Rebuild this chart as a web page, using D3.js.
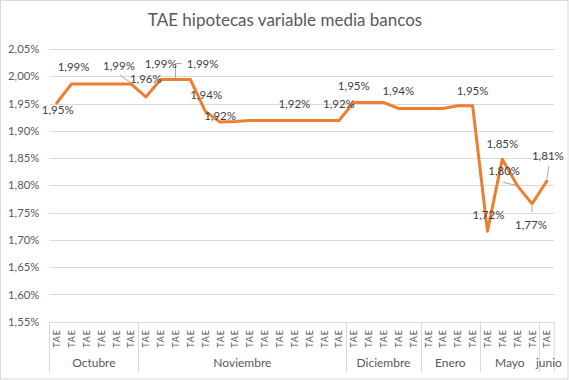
<!DOCTYPE html>
<html><head><meta charset="utf-8">
<script src="https://cdn.jsdelivr.net/npm/d3@7"></script>
<style>body{margin:0;background:#fff}svg{display:block;font-family:Lato,"Open Sans",sans-serif}</style>
</head><body><svg id="c" width="569" height="380"></svg>
<script>
// ---- data ----
const title = "TAE hipotecas variable media bancos";
const categories = ["TAE","TAE","TAE","TAE","TAE","TAE","TAE","TAE","TAE","TAE","TAE","TAE","TAE","TAE","TAE","TAE","TAE",
  "TAE","TAE","TAE","TAE","TAE","TAE","TAE","TAE","TAE","TAE","TAE","TAE","TAE","TAE","TAE","TAE","TAE"];
const months = ["Octubre","Noviembre","Diciembre","Enero","Mayo","junio"];
const monthCounts = [6, 14, 5, 4, 4, 1];
const values = [1.951, 1.986, 1.986, 1.986, 1.986, 1.986, 1.962, 1.994, 1.994, 1.994,
  1.936, 1.916, 1.917, 1.919, 1.919, 1.919, 1.919, 1.919, 1.919, 1.919,
  1.952, 1.952, 1.952, 1.941, 1.941, 1.941, 1.941, 1.946, 1.946, 1.716,
  1.848, 1.800, 1.766, 1.808];
const yTicks = [1.55, 1.60, 1.65, 1.70, 1.75, 1.80, 1.85, 1.90, 1.95, 2.00, 2.05];
const labelIndex = [0, 1, 5, 6, 7, 8, 10, 11, 16, 19, 20, 23, 28, 29, 30, 31, 32, 33];
// label placement relative to the point (layout, not data)
const labelOffset = {0:[1,7],1:[2,-17],5:[-12,-18],6:[0,-17.5],7:[0,-15.5],8:[27,-16],10:[1,-16],11:[0,-6],
  16:[0,-16],19:[0,-16],20:[0,-16],23:[0,-17],28:[0,-15],29:[1,-16],30:[0,-15],31:[-13,-14],32:[-1,21],33:[1,-25]};

// ---- layout ----
const svg = d3.select("#c");
const L = 49.3, R = 554.3, T = 49, B = 321.7;
const grey = "#595959", grid = "#d9d9d9";

svg.append("rect").attr("x",0.5).attr("y",0.5).attr("width",567.5).attr("height",378.5)
  .attr("fill","#fff").attr("stroke",grid);

const x = d3.scaleBand().domain(d3.range(categories.length)).range([L, R]).padding(0);
const y = d3.scaleLinear().domain([1.55, 2.05]).range([B, T]);
const fmt = v => v.toFixed(2).replace(".", ",") + "%";

svg.append("text").attr("x",285).attr("y",26).attr("text-anchor","middle")
  .attr("font-size",17).attr("fill",grey).text(title);

// gridlines
svg.append("g").selectAll("line").data(yTicks).join("line")
  .attr("x1",L).attr("x2",R).attr("y1",d=>Math.round(y(d))+0.5).attr("y2",d=>Math.round(y(d))+0.5)
  .attr("stroke",grid).attr("stroke-width",1);

// y axis labels
const yAxis = d3.axisLeft(y).tickValues(yTicks).tickFormat(fmt).tickSize(0).tickPadding(10);
const ga = svg.append("g").attr("transform",`translate(${L},0)`).call(yAxis);
ga.select(".domain").remove();
ga.selectAll("text").attr("font-family","Lato, sans-serif").attr("font-size",11.3).attr("fill",grey);

// category labels
svg.append("g").selectAll("text").data(categories).join("text")
  .attr("transform",(d,i)=>`translate(${x(i)+x.bandwidth()/2+3.5},338.5) rotate(-90)`)
  .attr("text-anchor","middle").attr("font-size",9).attr("letter-spacing",0.8)
  .attr("fill",grey).text(d=>d);

// month groups
let start = 0;
const groups = months.map((m,k)=>{const g={name:m,s:start,e:start+monthCounts[k]}; start+=monthCounts[k]; return g;});
const bounds = [0].concat(groups.map(g=>g.e));
svg.append("g").selectAll("line").data(bounds).join("line")
  .attr("x1",i=> i<categories.length ? Math.round(x(i))+0.5 : R).attr("x2",i=> i<categories.length ? Math.round(x(i))+0.5 : R)
  .attr("y1",B).attr("y2",372).attr("stroke",grid);
svg.append("g").selectAll("text").data(groups).join("text")
  .attr("x",g=>{const a=x(g.s), b=g.e<categories.length?x(g.e):R; return (a+b)/2 + (g.e-g.s===1?2:0);})
  .attr("y",367).attr("text-anchor","middle").attr("font-size",12).attr("fill",grey).text(g=>g.name);

// axis line
svg.append("line").attr("x1",L).attr("x2",R).attr("y1",Math.round(B)+0.5).attr("y2",Math.round(B)+0.5).attr("stroke",grid);

// series line
const line = d3.line().x((d,i)=>x(i)+x.bandwidth()/2).y(d=>y(d));
svg.append("path").datum(values).attr("d",line).attr("fill","none")
  .attr("stroke","#ED7D31").attr("stroke-width",3).attr("stroke-linejoin","round").attr("stroke-linecap","round");

// leader lines
const px = i => x(i)+x.bandwidth()/2, py = i => y(values[i]);
const leaders = [
  [[px(5)-11,py(5)-9],[px(5),py(5)-1]],
  [[px(8)+6,py(8)-16],[px(8),py(8)-16],[px(8),py(8)-1]],
  [[px(31)-14,py(31)-3],[px(31)-1,py(31)]],
  [[px(32),py(32)+2],[px(32),py(32)+8]],
  [[px(33)+2,py(33)-15],[px(33),py(33)-2]]
];
svg.append("g").selectAll("path").data(leaders).join("path")
  .attr("d",d=>d3.line()(d)).attr("fill","none").attr("stroke","#a6a6a6").attr("stroke-width",1);

// data labels
svg.append("g").selectAll("text").data(labelIndex).join("text")
  .attr("x",i=>px(i)+labelOffset[i][0]).attr("y",i=>py(i)+labelOffset[i][1]+4)
  .attr("text-anchor","middle").attr("font-size",11.5).attr("fill","#404040").text(i=>fmt(values[i]));
</script></body></html>
